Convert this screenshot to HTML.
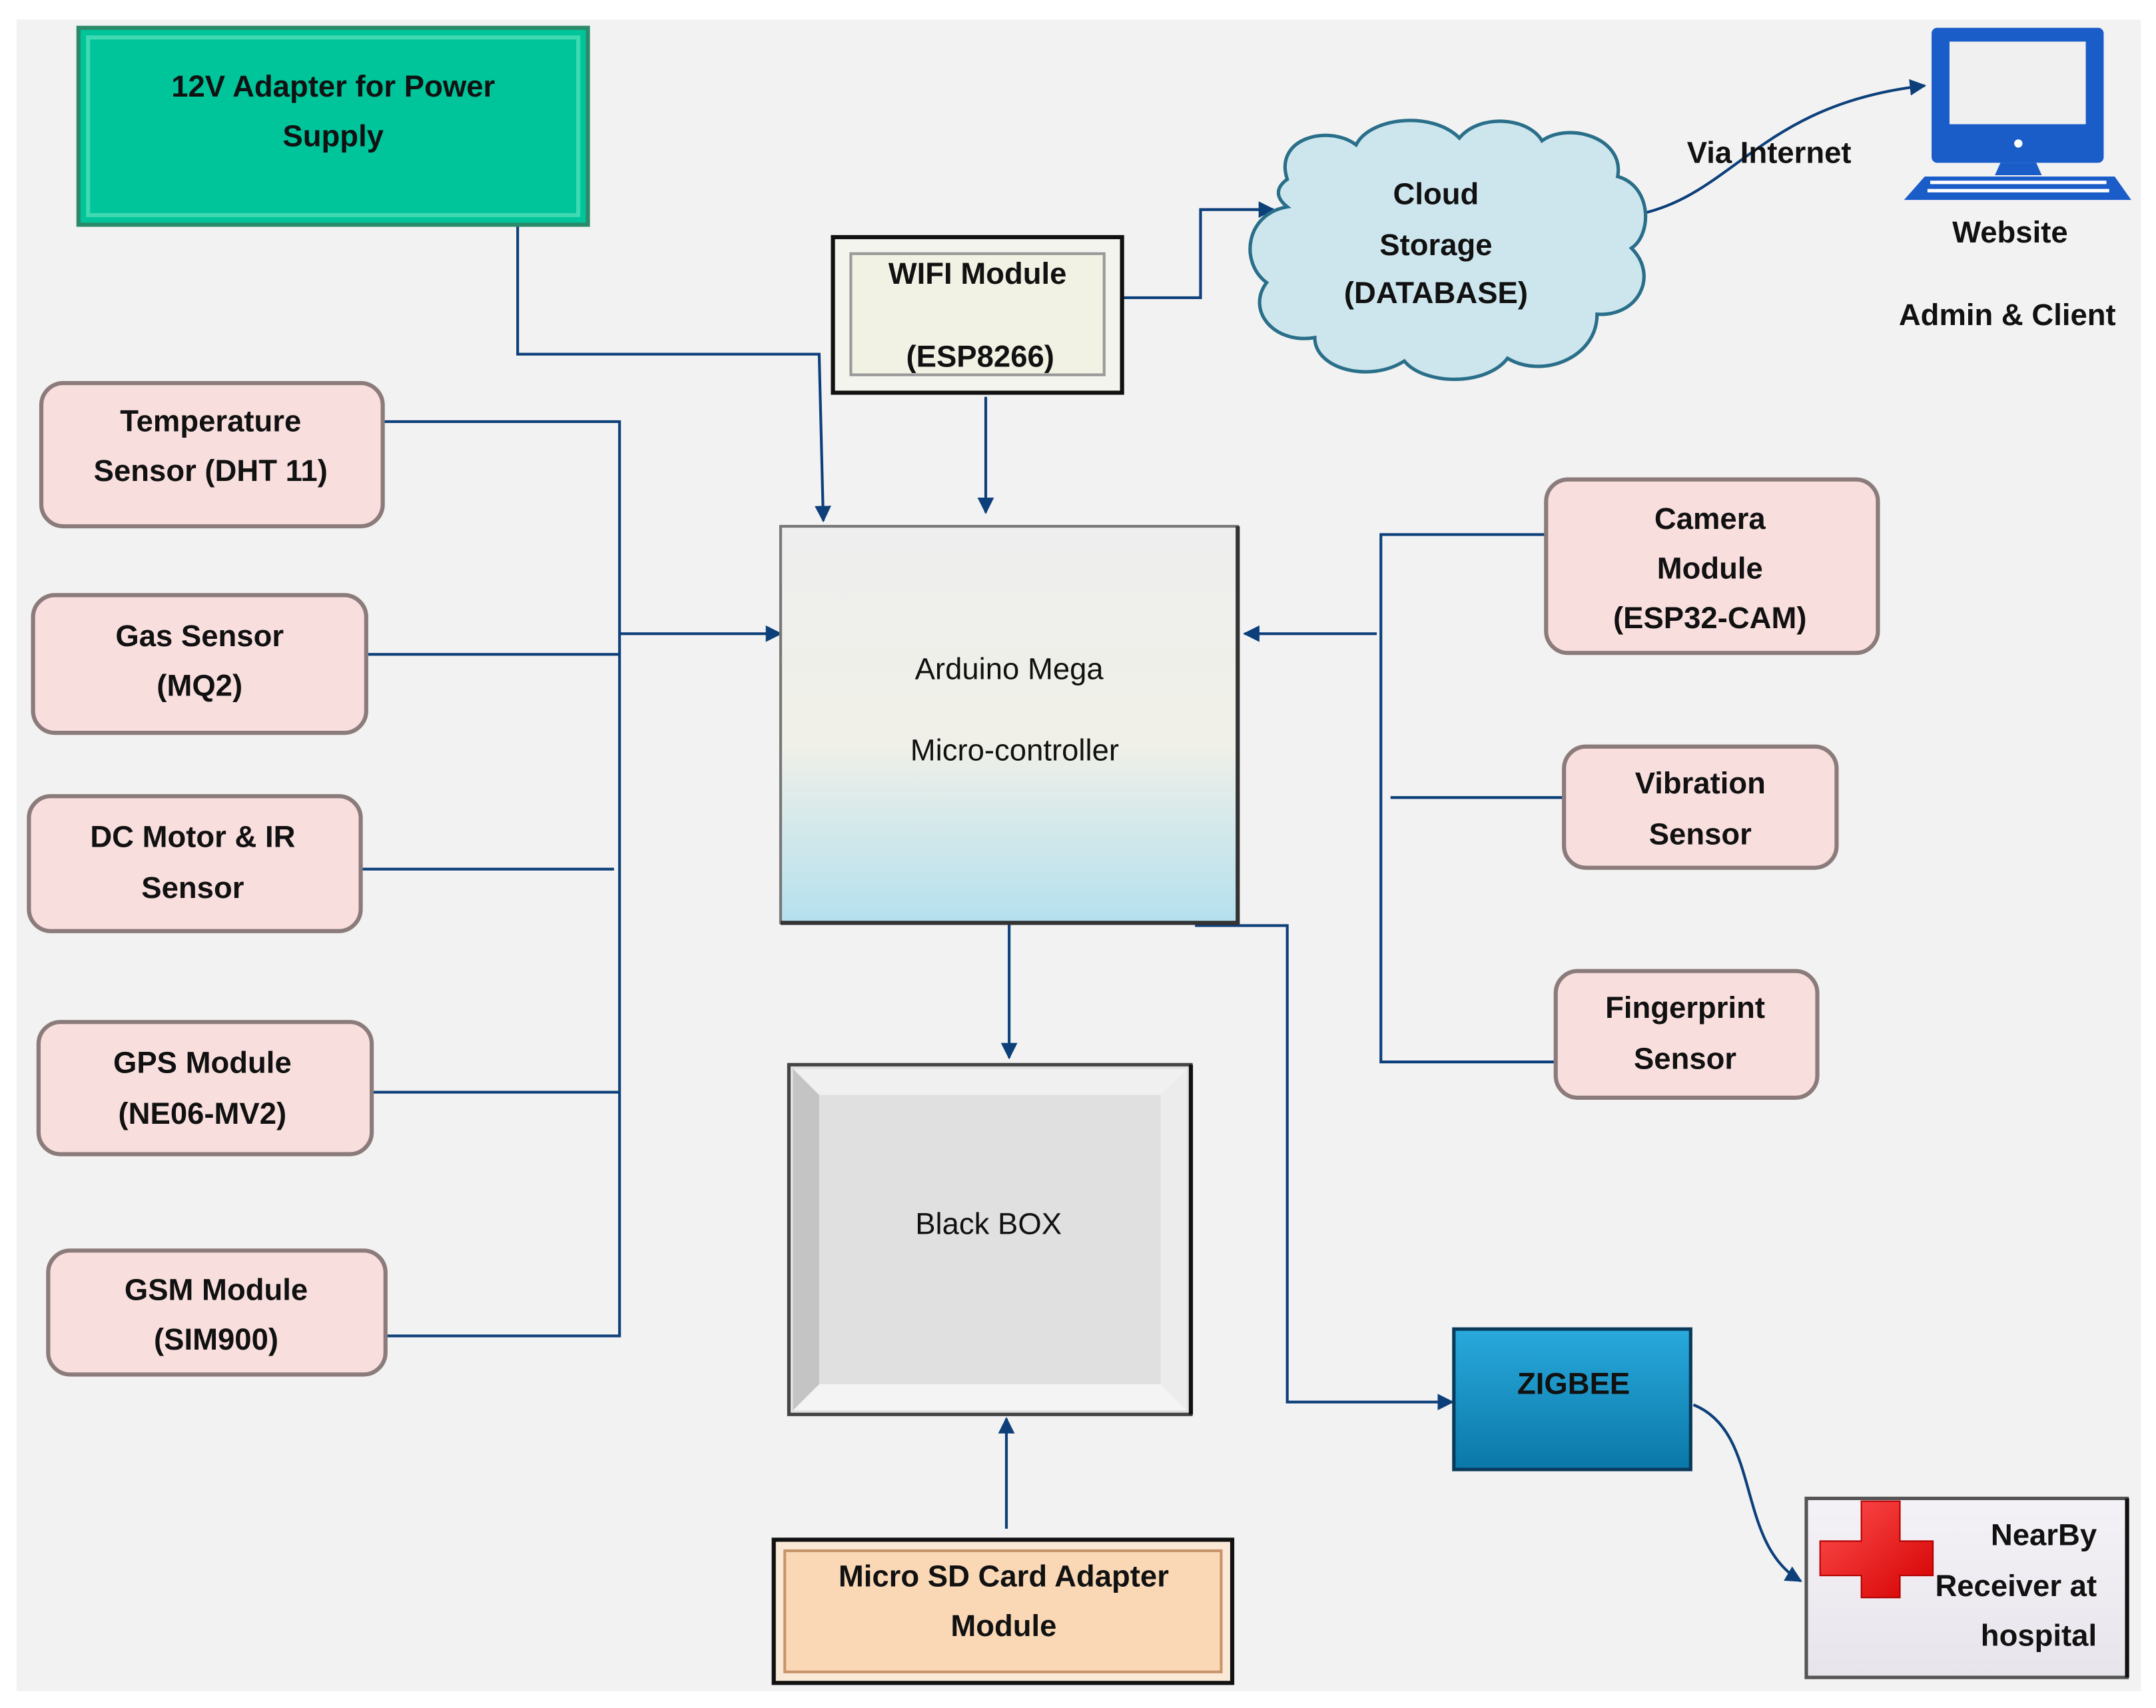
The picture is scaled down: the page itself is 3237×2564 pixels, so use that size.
<!DOCTYPE html>
<html><head><meta charset="utf-8"><style>
html,body{margin:0;padding:0;background:#fff}
svg{display:block}
text{font-family:"Liberation Sans",sans-serif;font-weight:bold;fill:#111;font-size:22px;text-anchor:middle}
</style></head><body>
<svg width="3237" height="2564" viewBox="0 0 1566 1240" xmlns="http://www.w3.org/2000/svg">
<defs>
<marker id="a" viewBox="0 0 10 10" refX="9" refY="5" markerWidth="12" markerHeight="12" markerUnits="userSpaceOnUse" orient="auto"><path d="M0,0L10,5L0,10z" fill="#0d3f7a"/></marker>
<linearGradient id="ard" x1="0" y1="0" x2="0" y2="1"><stop offset="0" stop-color="#eeeeee"/><stop offset="0.55" stop-color="#f0f0e8"/><stop offset="1" stop-color="#b4e0ee"/></linearGradient>
<linearGradient id="zig" x1="0" y1="0" x2="0" y2="1"><stop offset="0" stop-color="#29a9dc"/><stop offset="1" stop-color="#0a78a8"/></linearGradient>
<linearGradient id="hos" x1="0" y1="0" x2="0" y2="1"><stop offset="0" stop-color="#f4f2f6"/><stop offset="1" stop-color="#e8e4ec"/></linearGradient>
<linearGradient id="crs" x1="0" y1="0" x2="1" y2="1"><stop offset="0" stop-color="#ff5050"/><stop offset="1" stop-color="#d40000"/></linearGradient>
</defs>
<rect x="12" y="14" width="1543" height="1214" fill="#f2f2f2"/>
<g stroke="#0d3f7a" stroke-width="2" fill="none">
<path d="M376,163V257H595L598,378" marker-end="url(#a)"/>
<path d="M716,288V372" marker-end="url(#a)"/>
<path d="M815,216H872V152H925" marker-end="url(#a)"/>
<path d="M1192,155C1260,140 1280,75 1398,62" marker-end="url(#a)"/>
<path d="M278,306H450V970H280M266,475H450M262,631H446M270,793H450"/>
<path d="M450,460H567" marker-end="url(#a)"/>
<path d="M1123,388H1003V771H1130M1010,579H1136"/>
<path d="M1000,460H904" marker-end="url(#a)"/>
<path d="M733,670V768" marker-end="url(#a)"/>
<path d="M731,1110V1030" marker-end="url(#a)"/>
<path d="M868,672H935V1018H1055" marker-end="url(#a)"/>
<path d="M1230,1020C1280,1040 1260,1120 1308,1148" marker-end="url(#a)"/>
</g>
<!-- green -->
<rect x="57" y="20" width="370" height="143" fill="#00c49a" stroke="#2a8a6a" stroke-width="3"/>
<rect x="64" y="27" width="356" height="129" fill="none" stroke="#3fd9b2" stroke-width="3"/>
<text x="242" y="70">12V Adapter for Power</text><text x="242" y="106">Supply</text>
<!-- wifi -->
<rect x="605" y="172" width="210" height="113" fill="#f4f4ee" stroke="#111" stroke-width="3"/>
<rect x="618" y="184" width="184" height="88" fill="#f1f1e4" stroke="#999" stroke-width="2"/>
<text x="710" y="206">WIFI Module</text><text x="712" y="266">(ESP8266)</text>
<!-- cloud -->
<path d="M935,130C925,100 965,90 985,105C995,85 1040,80 1060,100C1075,82 1110,85 1120,102C1140,88 1180,100 1175,128C1200,135 1200,170 1185,180C1205,200 1190,230 1160,228C1160,260 1120,275 1095,260C1080,280 1035,280 1020,262C995,278 955,268 955,245C925,250 905,225 920,205C900,190 905,155 935,150C925,142 928,135 935,130Z" fill="#cde6ee" stroke="#2a6f8a" stroke-width="2.5"/>
<text x="1043" y="148">Cloud</text><text x="1043" y="185">Storage</text><text x="1043" y="220">(DATABASE)</text>
<!-- computer -->
<rect x="1403" y="20" width="125" height="98" rx="4" fill="#1a5cc8"/>
<rect x="1416" y="30" width="99" height="60" fill="#f0f0f0"/>
<circle cx="1466" cy="104" r="3" fill="#fff"/>
<path d="M1453,118H1479L1483,127H1449Z" fill="#1a5cc8"/>
<path d="M1398,128H1536L1548,145H1383Z" fill="#1a5cc8"/>
<g fill="#fff"><rect x="1402" y="131" width="128" height="2.5"/><rect x="1400" y="137" width="132" height="2.5"/></g>
<text x="1285" y="118">Via Internet</text>
<text x="1460" y="176">Website</text><text x="1458" y="236">Admin &amp; Client</text>
<!-- pink boxes -->
<g fill="#f9dede" stroke="#8c7b7b" stroke-width="3">
<rect x="30" y="278" width="248" height="104" rx="16"/>
<rect x="24" y="432" width="242" height="100" rx="16"/>
<rect x="21" y="578" width="241" height="98" rx="16"/>
<rect x="28" y="742" width="242" height="96" rx="16"/>
<rect x="35" y="908" width="245" height="90" rx="16"/>
<rect x="1123" y="348" width="241" height="126" rx="16"/>
<rect x="1136" y="542" width="198" height="88" rx="16"/>
<rect x="1130" y="705" width="190" height="92" rx="16"/>
</g>
<text x="153" y="313">Temperature</text><text x="153" y="349">Sensor (DHT 11)</text>
<text x="145" y="469">Gas Sensor</text><text x="145" y="505">(MQ2)</text>
<text x="140" y="615">DC Motor &amp; IR</text><text x="140" y="652">Sensor</text>
<text x="147" y="779">GPS Module</text><text x="147" y="816">(NE06-MV2)</text>
<text x="157" y="944">GSM Module</text><text x="157" y="980">(SIM900)</text>
<text x="1242" y="384">Camera</text><text x="1242" y="420">Module</text><text x="1242" y="456">(ESP32-CAM)</text>
<text x="1235" y="576">Vibration</text><text x="1235" y="613">Sensor</text>
<text x="1224" y="739">Fingerprint</text><text x="1224" y="776">Sensor</text>
<!-- arduino -->
<rect x="567" y="382" width="332" height="288" fill="url(#ard)" stroke="#777" stroke-width="2"/>
<path d="M899,382V670H567" fill="none" stroke="#333" stroke-width="3"/>
<text x="733" y="493" style="font-weight:normal">Arduino Mega</text>
<text x="737" y="552" style="font-weight:normal">Micro-controller</text>
<!-- black box -->
<rect x="573" y="773" width="292" height="254" fill="#e0e0e0" stroke="#444" stroke-width="2.5"/>
<path d="M576,776L595,795H843L862,776Z" fill="#f0f0f0"/>
<path d="M576,1024L595,1005H843L862,1024Z" fill="#f4f4f4"/>
<path d="M576,776L595,795V1005L576,1024Z" fill="#c4c4c4"/>
<path d="M862,776L843,795V1005L862,1024Z" fill="#ececec"/>
<path d="M865,773V1027" stroke="#111" stroke-width="3"/>
<text x="718" y="896" style="font-weight:normal">Black BOX</text>
<!-- micro sd -->
<rect x="562" y="1118" width="333" height="104" fill="#fbe9d8" stroke="#111" stroke-width="3"/>
<rect x="570" y="1126" width="317" height="88" fill="#fad8b6" stroke="#c8946a" stroke-width="2"/>
<text x="729" y="1152">Micro SD Card Adapter</text><text x="729" y="1188">Module</text>
<!-- zigbee -->
<rect x="1056" y="965" width="172" height="102" fill="url(#zig)" stroke="#0a3a5a" stroke-width="2.5"/>
<text x="1143" y="1012">ZIGBEE</text>
<!-- hospital -->
<rect x="1312" y="1088" width="233" height="130" fill="url(#hos)" stroke="#555" stroke-width="2.5"/>
<path d="M1545,1088V1218" stroke="#111" stroke-width="3"/>
<path d="M1352,1090h28v29h24v25h-24v16h-28v-16h-30v-25h30z" fill="url(#crs)" stroke="#b00000" stroke-width="1"/>
<g style="text-anchor:end"><text x="1523" y="1122" style="text-anchor:end">NearBy</text><text x="1523" y="1159" style="text-anchor:end">Receiver at</text><text x="1523" y="1195" style="text-anchor:end">hospital</text></g>
</svg>
</body></html>
